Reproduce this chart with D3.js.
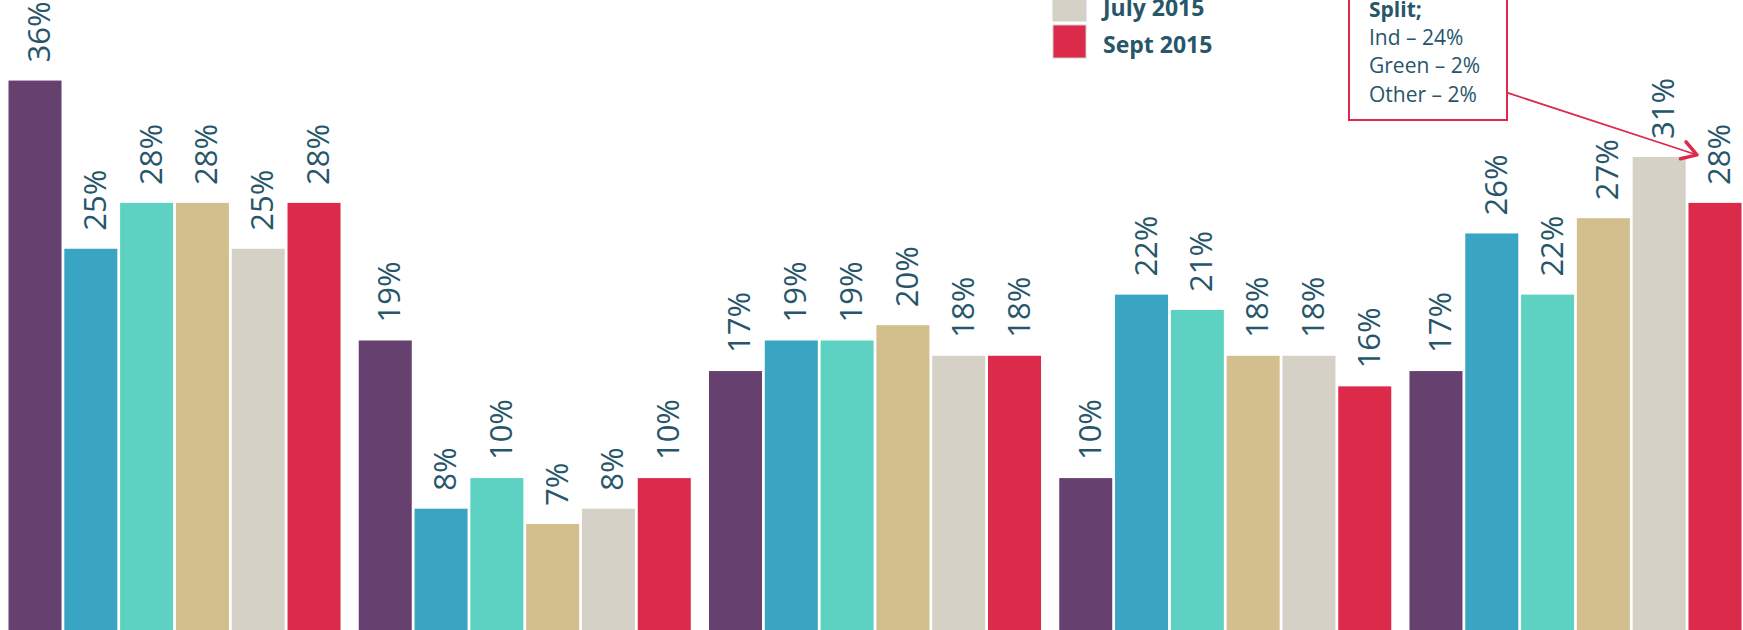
<!DOCTYPE html>
<html>
<head>
<meta charset="utf-8">
<script src="https://cdn.jsdelivr.net/npm/d3@7"></script>
<style>
  html, body { margin: 0; padding: 0; background: #fff; overflow: hidden; }
  svg { display: block; font-family: "Open Sans", sans-serif; }
</style>
</head>
<body>
<script>
// groups along the x axis (their labels sit below the visible area)
const groups = ["g1", "g2", "g3", "g4", "g5"];
// the six survey waves
const series = ["w1", "w2", "w3", "w4", "w5", "w6"];
const seriesColors = ["#66406F", "#3AA5C2", "#5ED2C2", "#D3BE8E", "#D5D1C6", "#DC2A4B"];
// only the last two legend entries are in view
const legendLabels = { w5: "July 2015", w6: "Sept 2015" };

// values in percent, one array per group
const g1 = [36, 25, 28, 28, 25, 28];
const g2 = [19, 8, 10, 7, 8, 10];
const g3 = [17, 19, 19, 20, 18, 18];
const g4 = [10, 22, 21, 18, 18, 16];
const g5 = [17, 26, 22, 27, 31, 28];
const groupValues = [g1, g2, g3, g4, g5];

const noteTitle = "Split;";
const noteLines = ["Ind \u2013 24%", "Green \u2013 2%", "Other \u2013 2%"];

const width = 1743, height = 630;
const textColor = "#27566A";

const svg = d3.select("body")
  .append("svg")
  .attr("width", width)
  .attr("height", height);

// scales
const x0 = d3.scaleBand()
  .domain(groups)
  .range([8.5, 1741.5])
  .paddingInner(0.052);

const x1 = d3.scaleBand()
  .domain(series)
  .range([0, x0.bandwidth()])
  .paddingInner(0.05);

const y = d3.scaleLinear()
  .domain([0, 40])
  .range([631, 631 - 40 * 15.29]);

const color = d3.scaleOrdinal()
  .domain(series)
  .range(seriesColors);

const data = [];
groups.forEach((g, i) => {
  series.forEach((s, j) => {
    data.push({ group: g, key: s, value: groupValues[i][j] });
  });
});

// bars
svg.append("g")
  .selectAll("rect")
  .data(data)
  .join("rect")
  .attr("x", d => x0(d.group) + x1(d.key))
  .attr("y", d => y(d.value))
  .attr("width", x1.bandwidth())
  .attr("height", d => y(0) - y(d.value))
  .attr("fill", d => color(d.key));

// rotated value labels
svg.append("g")
  .selectAll("text")
  .data(data)
  .join("text")
  .attr("transform", d => {
    const cx = x0(d.group) + x1(d.key) + x1.bandwidth() / 2 + 15;
    return `translate(${cx},${y(d.value) - 18}) rotate(-90)`;
  })
  .attr("fill", textColor)
  .style("font-size", "31px")
  .text(d => d.value + "%");

// legend (top entries run above the picture)
const legendKeys = series.filter(s => legendLabels[s]);
const legend = svg.append("g")
  .selectAll("g")
  .data(legendKeys)
  .join("g")
  .attr("transform", (d, i) => `translate(1053,${25 - (legendKeys.length - 1 - i) * 37})`);

legend.append("rect")
  .attr("width", 33)
  .attr("height", 33)
  .attr("fill", d => color(d))
  .attr("stroke", "#cfcfcf")
  .attr("stroke-width", 1);

legend.append("text")
  .attr("x", 50)
  .attr("y", 28)
  .attr("fill", textColor)
  .style("font-size", "23px")
  .style("font-weight", "bold")
  .text(d => legendLabels[d]);

// annotation box with arrow to the last bar
const note = svg.append("g");
note.append("rect")
  .attr("x", 1349)
  .attr("y", -100)
  .attr("width", 158)
  .attr("height", 220)
  .attr("fill", "#fff")
  .attr("stroke", "#DC2A4B")
  .attr("stroke-width", 2);

note.append("text")
  .attr("x", 1369)
  .attr("y", 17)
  .attr("fill", textColor)
  .style("font-size", "21px")
  .style("font-weight", "bold")
  .text(noteTitle);

note.selectAll(".line")
  .data(noteLines)
  .join("text")
  .attr("class", "line")
  .attr("x", 1369)
  .attr("y", (d, i) => 45 + i * 28.3)
  .attr("fill", textColor)
  .style("font-size", "21px")
  .text(d => d);

const last = data[data.length - 1];
const tipX = x0(last.group) + x1(last.key) + x1.bandwidth() / 2 - 18;
const tipY = y(last.value) - 48;
const startX = 1507, startY = 92.7;
const ang = Math.atan2(tipY - startY, tipX - startX);
const arm = 17, spread = 0.55;

note.append("line")
  .attr("x1", startX)
  .attr("y1", startY)
  .attr("x2", tipX - 2 * Math.cos(ang))
  .attr("y2", tipY - 2 * Math.sin(ang))
  .attr("stroke", "#DC2A4B")
  .attr("stroke-width", 1.8);

note.append("path")
  .attr("d", `M${tipX - arm * Math.cos(ang - spread)},${tipY - arm * Math.sin(ang - spread)}`
    + `L${tipX},${tipY}`
    + `L${tipX - arm * Math.cos(ang + spread)},${tipY - arm * Math.sin(ang + spread)}`)
  .attr("fill", "none")
  .attr("stroke", "#DC2A4B")
  .attr("stroke-width", 3.5)
  .attr("stroke-linecap", "round")
  .attr("stroke-linejoin", "round");
</script>
</body>
</html>
